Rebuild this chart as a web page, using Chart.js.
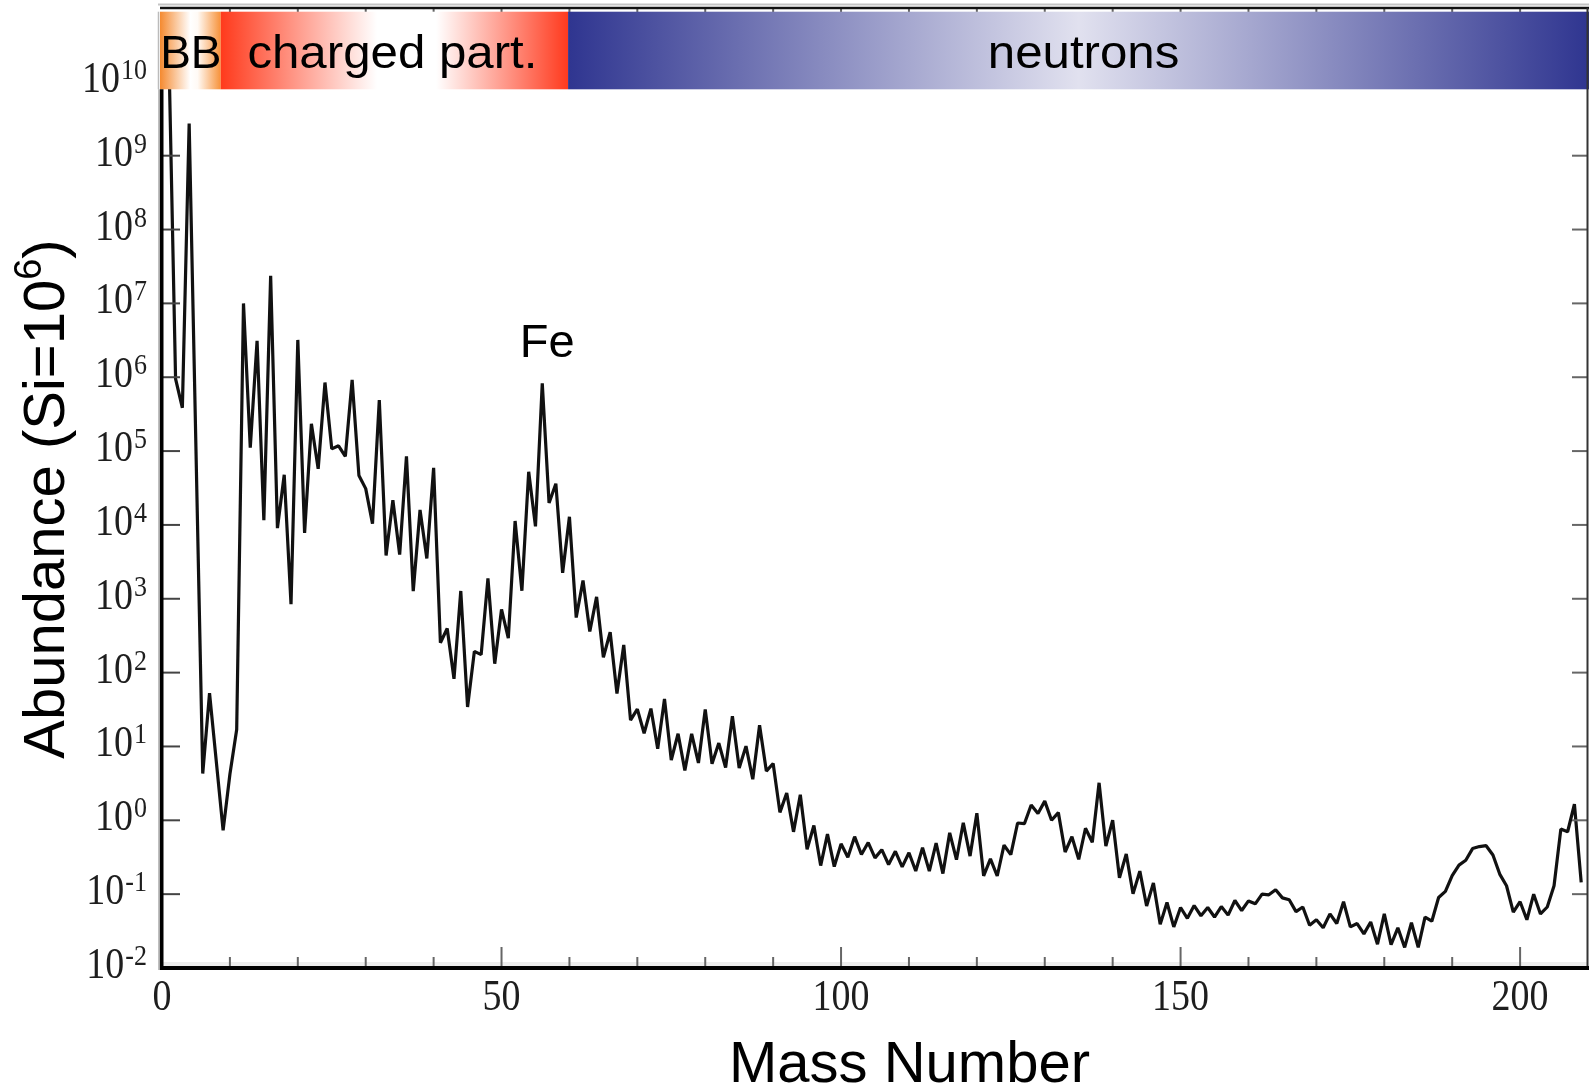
<!DOCTYPE html>
<html>
<head>
<meta charset="utf-8">
<title>Abundance vs Mass Number</title>
<script src="https://cdn.jsdelivr.net/npm/chart.js@4.4.1/dist/chart.umd.min.js"></script>
<style>
  html, body { margin: 0; padding: 0; background: #fff; }
  #wrap { width: 1589px; height: 1086px; }
</style>
</head>
<body>
<div id="wrap"><canvas id="chart" width="1589" height="1086"></canvas></div>
<script>
// abundance per mass number (Si = 1e6); A = 5 and 8 have no point
var massNumber = [
  1, 2, 3, 4, 6, 7, 9, 10, 11, 12, 13, 14, 15, 16, 17, 18, 19, 20,
  21, 22, 23, 24, 25, 26, 27, 28, 29, 30, 31, 32, 33, 34, 35, 36, 37, 38, 39, 40,
  41, 42, 43, 44, 45, 46, 47, 48, 49, 50, 51, 52, 53, 54, 55, 56, 57, 58, 59, 60,
  61, 62, 63, 64, 65, 66, 67, 68, 69, 70, 71, 72, 73, 74, 75, 76, 77, 78, 79, 80,
  81, 82, 83, 84, 85, 86, 87, 88, 89, 90, 91, 92, 93, 94, 95, 96, 97, 98, 99, 100,
  101, 102, 103, 104, 105, 106, 107, 108, 109, 110, 111, 112, 113, 114, 115, 116, 117, 118, 119, 120,
  121, 122, 123, 124, 125, 126, 127, 128, 129, 130, 131, 132, 133, 134, 135, 136, 137, 138, 139, 140,
  141, 142, 143, 144, 145, 146, 147, 148, 149, 150, 151, 152, 153, 154, 155, 156, 157, 158, 159, 160,
  161, 162, 163, 164, 165, 166, 167, 168, 169, 170, 171, 172, 173, 174, 175, 176, 177, 178, 179, 180,
  181, 182, 183, 184, 185, 186, 187, 188, 189, 190, 191, 192, 193, 194, 195, 196, 197, 198, 199, 200,
  201, 202, 203, 204, 205, 206, 207, 208, 209
];
var abundance = [
  2.79e10, 9.5e5, 3.86e5, 2.72e9, 4.3, 52.8, 0.73, 4.2, 17, 9.99e6, 1.11e5, 3.12e6, 1.16e4, 2.37e7, 9040, 4.77e4, 843, 3.2e6,
  7780, 2.34e5, 5.74e4, 8.48e5, 1.07e5, 1.18e5, 8.49e4, 9.22e5, 4.67e4, 3.1e4, 1.04e4, 4.89e5, 3860, 2.17e4, 3970, 8.51e4, 1270, 1.6e4, 3520, 5.92e4,
  254, 395, 82.5, 1275, 34.2, 194, 175, 1885, 132, 718, 292, 1.13e4, 1283, 5.25e4, 9550, 8.25e5, 1.98e4, 3.62e4, 2250, 1.29e4,
  557, 1770, 361, 1061, 161, 352, 52, 237, 22.7, 32, 15.1, 32.6, 9.28, 44, 6.56, 14.9, 4.72, 14.8, 5.98, 31.8,
  5.82, 11.1, 5.18, 25.7, 5.12, 10.1, 3.6, 19.4, 4.64, 5.87, 1.28, 2.34, 0.698, 2.22, 0.406, 0.85, 0.244, 0.65, 0.236, 0.48,
  0.316, 0.60, 0.344, 0.50, 0.31, 0.40, 0.252, 0.38, 0.234, 0.364, 0.206, 0.425, 0.205, 0.49, 0.19, 0.676, 0.293, 0.925, 0.328, 1.25,
  0.177, 0.30, 0.176, 0.46, 0.343, 0.92, 0.90, 1.61, 1.24, 1.82, 1.0, 1.27, 0.372, 0.60, 0.296, 0.78, 0.504, 3.22, 0.446, 1.005,
  0.167, 0.35, 0.101, 0.205, 0.069, 0.142, 0.039, 0.077, 0.036, 0.066, 0.047, 0.070, 0.051, 0.066, 0.049, 0.068, 0.052, 0.082, 0.060, 0.081,
  0.074, 0.10, 0.098, 0.115, 0.089, 0.084, 0.058, 0.067, 0.038, 0.045, 0.035, 0.054, 0.040, 0.079, 0.036, 0.040, 0.029, 0.042, 0.021, 0.054,
  0.0207, 0.035, 0.019, 0.041, 0.019, 0.049, 0.043, 0.09, 0.109, 0.178, 0.247, 0.288, 0.414, 0.441, 0.453, 0.339, 0.187, 0.13, 0.057, 0.079,
  0.045, 0.10, 0.054, 0.067, 0.13, 0.76, 0.70, 1.65, 0.144
];

var xTickLabels = [0, 50, 100, 150, 200];
var yDecades = [-2, -1, 0, 1, 2, 3, 4, 5, 6, 7, 8, 9, 10];

// process bands along the top, in mass number
var bandLabels = ['BB', 'charged part.', 'neutrons'];
var bandFrom = [0, 8.65, 59.8];
var bandTo = [8.65, 59.8, 210];

var peakLabel = 'Fe';
var peakMass = 56;

var serif = '"Liberation Serif", "Times New Roman", serif';
var sans = '"Liberation Sans", Arial, sans-serif';

function line(ctx, x1, y1, x2, y2) {
  ctx.beginPath();
  ctx.moveTo(x1, y1);
  ctx.lineTo(x2, y2);
  ctx.stroke();
}

// draw text with a stretch factor (the figure's fonts are a bit distorted)
function stretchedText(ctx, txt, x, y, align, sx, sy) {
  ctx.save();
  ctx.translate(x, y);
  ctx.scale(sx || 1, sy || 1.17);
  ctx.textAlign = align;
  ctx.fillText(txt, 0, 0);
  ctx.restore();
}

var decor = {
  id: 'decor',
  beforeDraw: function(chart) {
    var ctx = chart.ctx, ca = chart.chartArea;
    ctx.save();
    ctx.fillStyle = '#fff';
    ctx.fillRect(0, 0, chart.width, chart.height);
    // faint shade above the bottom axis
    ctx.fillStyle = '#ededed';
    ctx.fillRect(ca.left, ca.bottom - 6, ca.right - ca.left, 4);
    ctx.restore();
  },
  afterDatasetsDraw: function(chart) {
    var ctx = chart.ctx, ca = chart.chartArea;
    var xs = chart.scales.x, ys = chart.scales.y;
    ctx.save();

    // ticks
    ctx.lineWidth = 2;
    ctx.strokeStyle = '#666';
    for (var v = 10; v <= 200; v += 10) {
      var px = xs.getPixelForValue(v);
      var len = (v % 50 === 0) ? 21 : 11;
      line(ctx, px, ca.bottom - 1, px, ca.bottom - len);
      line(ctx, px, ca.top, px, ca.top + 5);
    }
    yDecades.forEach(function(e) {
      var py = ys.getPixelForValue(Math.pow(10, e));
      ctx.strokeStyle = '#444';
      line(ctx, ca.left, py, ca.left + 18, py);
      ctx.strokeStyle = '#666';
      line(ctx, ca.right - 1, py, ca.right - 16, py);
    });

    // process bands
    var bTop = ca.top + 3.7, bH = 77.6;
    var bandColors = [
      [[0, '#f58a30'], [0.5, '#ffffff'], [0.62, '#fffaf5'], [1, '#f7923a']],
      [[0, '#ff3a1c'], [0.45, '#ffffff'], [0.62, '#ffffff'], [1, '#ff3a1e']],
      [[0, '#2f3590'], [0.5, '#e1e1ef'], [1, '#2f3590']]
    ];
    bandLabels.forEach(function(lbl, i) {
      var x1 = xs.getPixelForValue(bandFrom[i]);
      var x2 = xs.getPixelForValue(bandTo[i]);
      if (i === 0) x1 -= 2;
      if (i === bandLabels.length - 1) x2 = chart.width;
      var g = ctx.createLinearGradient(x1, 0, x2, 0);
      bandColors[i].forEach(function(s) { g.addColorStop(s[0], s[1]); });
      ctx.fillStyle = g;
      ctx.fillRect(x1, bTop, x2 - x1, bH);
      ctx.fillStyle = '#000';
      ctx.font = '46px ' + sans;
      ctx.textBaseline = 'alphabetic';
      var cx = (x1 + x2) / 2 + (i === 0 ? 0.5 : (i === 1 ? -2 : 5));
      stretchedText(ctx, lbl, cx, bTop + 56.5, 'center', i === 0 ? 1 : 1.07, 1);
    });
    ctx.strokeStyle = '#bbb';
    ctx.lineWidth = 1.5;
    line(ctx, ca.left - 3.5, bTop, ca.left - 3.5, bTop + bH);

    // frame
    ctx.strokeStyle = '#c4c4c4';
    ctx.lineWidth = 2;
    line(ctx, ca.left - 4, ca.top - 3.5, chart.width, ca.top - 3.5);
    ctx.strokeStyle = '#111';
    ctx.lineWidth = 2.5;
    line(ctx, ca.left - 2, ca.top, chart.width, ca.top);
    ctx.strokeStyle = '#333';
    ctx.lineWidth = 2;
    line(ctx, ca.right - 0.5, ca.top, ca.right - 0.5, ca.bottom);
    ctx.strokeStyle = '#aaa';
    ctx.lineWidth = 1.5;
    line(ctx, ca.left - 3, bTop + bH, ca.left - 3, ca.bottom + 2);
    ctx.strokeStyle = '#000';
    ctx.lineWidth = 3.6;
    line(ctx, ca.left - 0.3, bTop + bH, ca.left - 0.3, ca.bottom + 2);
    ctx.lineWidth = 4.2;
    line(ctx, ca.left - 2, ca.bottom, chart.width, ca.bottom);

    // y tick labels 10^n
    ctx.fillStyle = '#1e1e1e';
    ctx.textBaseline = 'alphabetic';
    var right = 147;
    yDecades.forEach(function(e) {
      var py = ys.getPixelForValue(Math.pow(10, e));
      var ex = String(e);
      ctx.font = '26px ' + serif;
      var wExp = ctx.measureText(ex).width;
      stretchedText(ctx, ex, right - wExp, py - 3, 'left');
      ctx.font = '38px ' + serif;
      stretchedText(ctx, '10', right - wExp - 1, py + 10, 'right');
    });

    // x tick labels
    ctx.font = '38px ' + serif;
    xTickLabels.forEach(function(v) {
      stretchedText(ctx, String(v), xs.getPixelForValue(v), ca.bottom + 42, 'center');
    });

    // Fe label over its peak
    var iFe = massNumber.indexOf(peakMass);
    ctx.fillStyle = '#000';
    ctx.font = '47px ' + sans;
    ctx.textAlign = 'center';
    ctx.fillText(peakLabel, xs.getPixelForValue(peakMass) + 5, ys.getPixelForValue(abundance[iFe]) - 26);

    // x title
    ctx.font = '58px ' + sans;
    ctx.textAlign = 'center';
    ctx.fillText('Mass Number', 909.5, 1082);

    // y title with superscript
    ctx.save();
    ctx.translate(64, 499);
    ctx.rotate(-Math.PI / 2);
    ctx.textAlign = 'left';
    var p1 = 'Abundance (Si=10', p2 = ')';
    ctx.font = '58px ' + sans;
    var w1 = ctx.measureText(p1).width, w2 = ctx.measureText(p2).width;
    ctx.font = '38px ' + sans;
    var ws = ctx.measureText('6').width;
    var x0 = -(w1 + ws + w2) / 2;
    ctx.font = '58px ' + sans;
    ctx.fillText(p1, x0, 0);
    ctx.fillText(p2, x0 + w1 + ws, 0);
    ctx.font = '38px ' + sans;
    ctx.fillText('6', x0 + w1, -23);
    ctx.restore();

    ctx.restore();
  }
};

var points = massNumber.map(function(a, i) { return { x: a, y: abundance[i] }; });

var chart = new Chart(document.getElementById('chart'), {
  type: 'line',
  data: {
    datasets: [{
      label: 'Abundance',
      data: points,
      borderColor: '#111',
      borderWidth: 3.2,
      borderJoinStyle: 'bevel',
      pointRadius: 0,
      tension: 0,
      fill: false
    }]
  },
  options: {
    responsive: false,
    animation: false,
    devicePixelRatio: 1,
    layout: { padding: { top: 8, right: 1, left: 0, bottom: 0 } },
    plugins: {
      legend: { display: false },
      tooltip: { enabled: false },
      title: { display: false }
    },
    scales: {
      x: {
        type: 'linear',
        min: 0,
        max: 210,
        grid: { display: false },
        border: { display: false },
        ticks: { display: false, stepSize: 10 },
        afterFit: function(s) { s.height = 118; }
      },
      y: {
        type: 'logarithmic',
        min: 1e-2,
        max: 1e11,
        grid: { display: false },
        border: { display: false },
        ticks: { display: false },
        afterBuildTicks: function(s) {
          s.ticks = yDecades.map(function(e) { return { value: Math.pow(10, e) }; });
        },
        afterFit: function(s) { s.width = 162; }
      }
    }
  },
  plugins: [decor]
});
</script>
</body>
</html>
